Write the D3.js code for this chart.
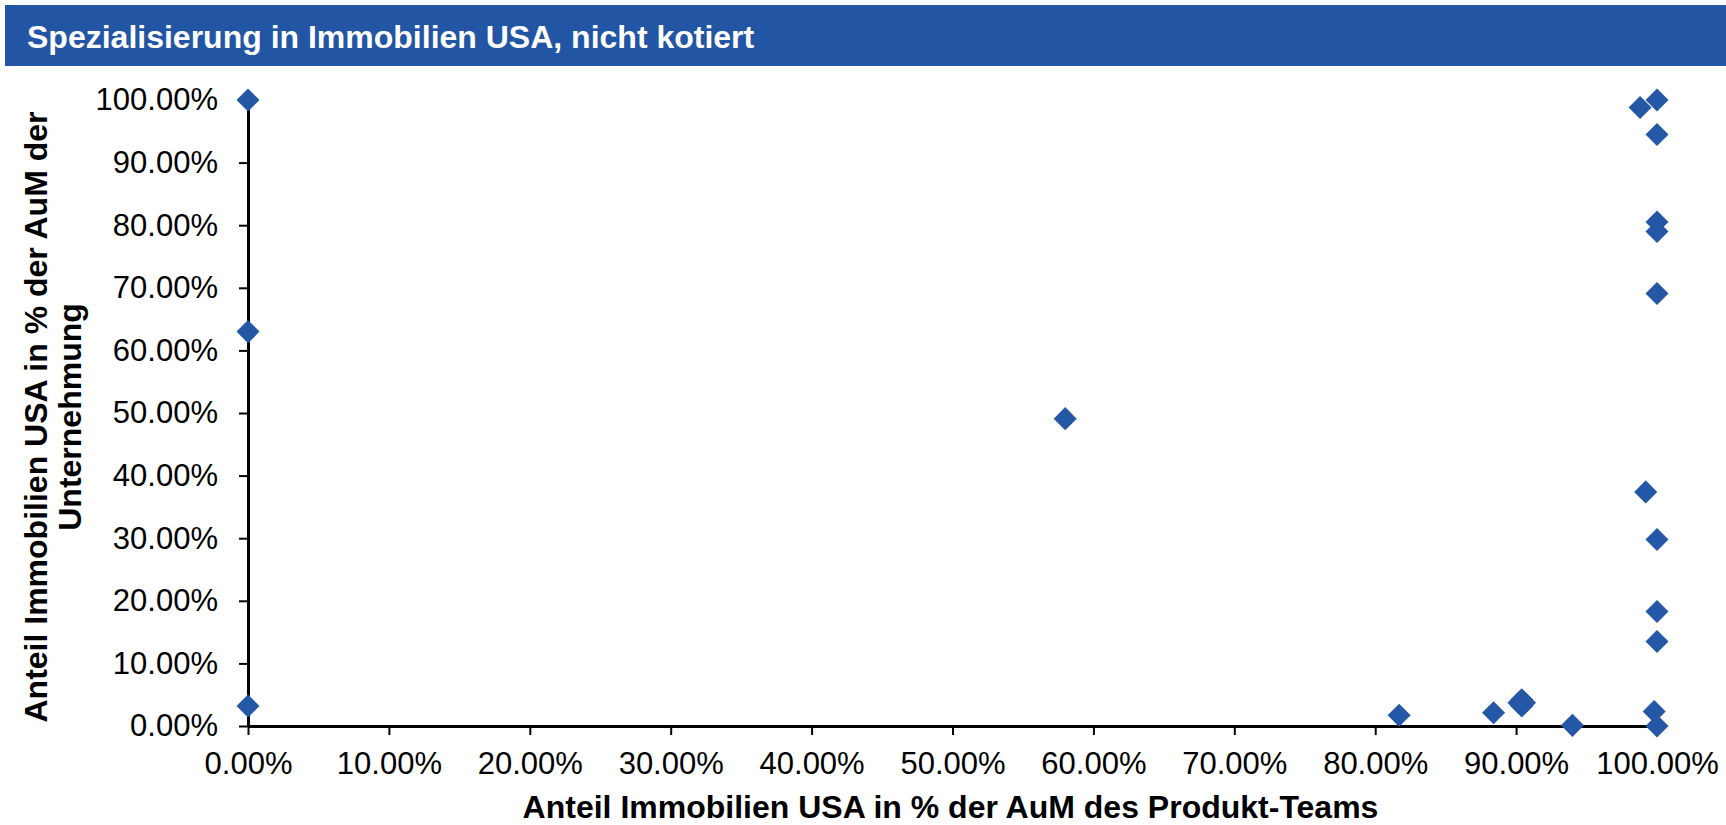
<!DOCTYPE html>
<html>
<head>
<meta charset="utf-8">
<script src="https://cdn.jsdelivr.net/npm/d3@7"></script>
<style>
  body { margin: 0; background: #fff; }
  svg { display: block; font-family: "Liberation Sans", Arial, sans-serif; }
  .tick text { fill: #000; }
</style>
</head>
<body>
<div id="chart"></div>
<script>
// values (share as fraction)
const xValues = [0, 0, 0, 0.580, 0.817, 0.884, 0.902, 0.906, 0.904, 0.904, 0.940,
  0.998, 1.0, 0.988, 1.0, 1.0, 1.0, 1.0, 1.0, 0.992, 1.0, 1.0, 1.0];
const yValues = [1.0, 0.630, 0.032, 0.491, 0.017, 0.021, 0.037, 0.037, 0.042, 0.032, 0.001,
  0.023, 0.0, 0.988, 1.0, 0.945, 0.805, 0.790, 0.691, 0.374, 0.298, 0.183, 0.135];
const tickValues = [0, 0.1, 0.2, 0.3, 0.4, 0.5, 0.6, 0.7, 0.8, 0.9, 1.0];

const chartTitle = "Spezialisierung in Immobilien USA, nicht kotiert";
const xTitle = "Anteil Immobilien USA in % der AuM des Produkt-Teams";
const yTitle = ["Anteil Immobilien USA in % der AuM der", "Unternehmung"];

const width = 1726;
const height = 825;
const margin = { top: 100, right: 69, bottom: 99, left: 248 };
const blue = "#2457a6";

const svg = d3.select("#chart")
  .append("svg")
  .attr("width", width)
  .attr("height", height);

// title bar
svg.append("rect")
  .attr("x", 5)
  .attr("y", 5)
  .attr("width", width - 5)
  .attr("height", 61)
  .attr("fill", "#2255a4");

svg.append("text")
  .attr("x", 27)
  .attr("y", 48)
  .attr("fill", "#fff")
  .attr("font-size", 32)
  .attr("font-weight", "bold")
  .text(chartTitle);

const x = d3.scaleLinear()
  .domain([0, 1])
  .range([margin.left, width - margin.right]);

const y = d3.scaleLinear()
  .domain([0, 1])
  .range([height - margin.bottom, margin.top]);

const fmt = d3.format(".2%");

const xAxis = svg.append("g")
  .attr("transform", `translate(0,${height - margin.bottom})`)
  .call(d3.axisBottom(x).tickValues(tickValues).tickFormat(fmt)
    .tickSize(9).tickSizeOuter(0).tickPadding(17));

const yAxis = svg.append("g")
  .attr("transform", `translate(${margin.left},0)`)
  .call(d3.axisLeft(y).tickValues(tickValues).tickFormat(fmt)
    .tickSize(9).tickSizeOuter(0).tickPadding(21));

[xAxis, yAxis].forEach(g => {
  g.select(".domain").attr("stroke", "#000").attr("stroke-width", 3);
  g.selectAll(".tick line").attr("stroke", "#000").attr("stroke-width", 2);
  g.selectAll(".tick text").attr("font-size", 31).attr("font-family", "Liberation Sans, Arial, sans-serif");
});

// axis titles
svg.append("text")
  .attr("x", (margin.left + width - margin.right) / 2 - 2)
  .attr("y", 818)
  .attr("text-anchor", "middle")
  .attr("font-size", 32)
  .attr("font-weight", "bold")
  .text(xTitle);

const yt = svg.append("text")
  .attr("transform", "translate(47,417) rotate(-90)")
  .attr("text-anchor", "middle")
  .attr("font-size", 32)
  .attr("font-weight", "bold");

yt.selectAll("tspan")
  .data(yTitle)
  .enter()
  .append("tspan")
  .attr("x", 0)
  .attr("dy", (d, i) => i === 0 ? 0 : 34)
  .text(d => d);

// diamond markers
const diamond = d3.symbol().type(d3.symbolSquare).size(265);

svg.append("g")
  .selectAll("path")
  .data(xValues.map((v, i) => [v, yValues[i]]))
  .enter()
  .append("path")
  .attr("d", diamond)
  .attr("transform", d => `translate(${x(d[0])},${y(d[1])}) rotate(45)`)
  .attr("fill", blue);
</script>
</body>
</html>
